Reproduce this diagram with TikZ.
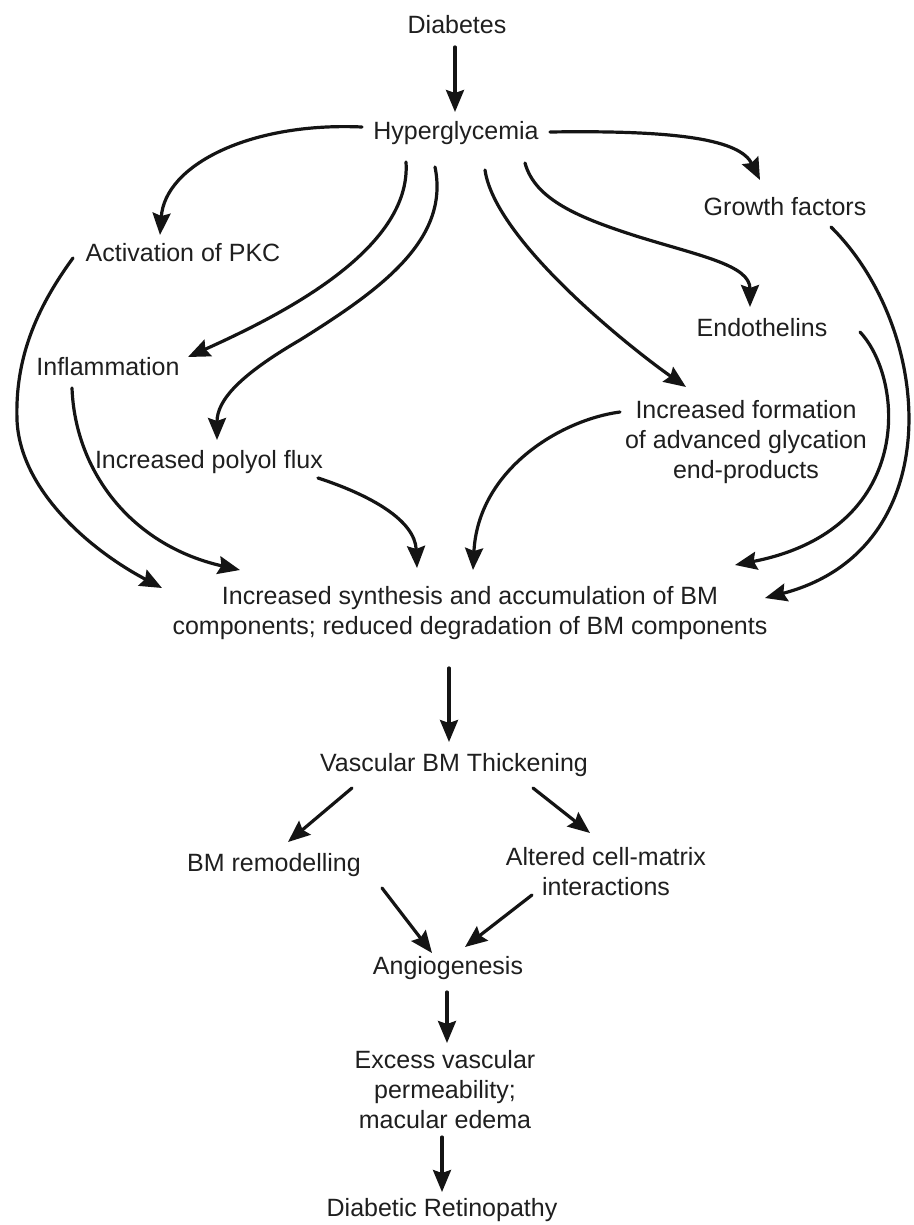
\documentclass[tikz,border=0pt]{standalone}
\usepackage{fontspec}
\setmainfont{Liberation Sans}
\usetikzlibrary{arrows.meta}
\begin{document}
\begin{tikzpicture}[x=1pt,y=-1pt,
  lbl/.style={font=\fontsize{25}{30}\selectfont, text=black!88, inner sep=0pt, align=center},
  arr/.style={line width=3.2pt, draw=black!92, line cap=round, -{Stealth[length=22pt,width=18pt,inset=3pt]}}]
\useasboundingbox[fill=white] (0,0) rectangle (913,1225);
% nodes
\node[lbl] (dia)  at (457,25)  {Diabetes};
\node[lbl] (hyp)  at (456,133) {Hyperglycemia};
\node[lbl] (gf)   at (785,207) {Growth factors};
\node[lbl] (pkc)  at (183,253) {Activation of PKC};
\node[lbl] (endo) at (762,328) {Endothelins};
\node[lbl] (infl) at (108,367) {Inflammation};
\node[lbl] (age)  at (746,442) {Increased formation\\of advanced glycation\\end-products};
\node[lbl] (poly) at (209,462) {Increased polyol flux};
\node[lbl] (bm)   at (470,613) {Increased synthesis and accumulation of BM\\components; reduced degradation of BM components};
\node[lbl] (vbm)  at (454,765) {Vascular BM Thickening};
\node[lbl] (rem)  at (274,865) {BM remodelling};
\node[lbl] (alt)  at (606,872) {Altered cell-matrix\\interactions};
\node[lbl] (ang)  at (448,968) {Angiogenesis};
\node[lbl] (exc)  at (445,1090) {Excess vascular\\permeability;\\macular edema};
\node[lbl] (ret)  at (442,1210) {Diabetic Retinopathy};
% connectors
\draw[arr] ([shift={(-2,22)}]dia.center) -- ([shift={(-1,-21)}]hyp.center);
\draw[arr] ([shift={(-94,-6)}]hyp.center) .. controls (250,122) and (165,165) .. ([shift={(-23,-18)}]pkc.center);
\draw[arr] ([shift={(-50,29)}]hyp.center) .. controls (412,250) and (279,316) .. ([shift={(80,-10)}]infl.center);
\draw[arr] ([shift={(-21,34)}]hyp.center) .. controls (450,240) and (380,290) .. (300,340) .. controls (240,375) and (217,400) .. ([shift={(8,-22)}]poly.center);
\draw[arr] ([shift={(29,37)}]hyp.center) .. controls (495,240) and (629,347) .. ([shift={(-60,-55)}]age.center);
\draw[arr] ([shift={(69,30)}]hyp.center) .. controls (535,200) and (580,218) .. (636,236) .. controls (700,256) and (750,265) .. ([shift={(-12,-21)}]endo.center);
\draw[arr] ([shift={(94,-1)}]hyp.center) .. controls (680,130) and (740,140) .. ([shift={(-25,-27)}]gf.center);
\draw[arr] ([shift={(-110,5)}]pkc.center) .. controls (35,310) and (15,360) .. (17,420) .. controls (20,490) and (90,550) .. ([shift={(-308,-25)}]bm.center);
\draw[arr] ([shift={(-36,21)}]infl.center) .. controls (75,470) and (130,545) .. ([shift={(-230,-43)}]bm.center);
\draw[arr] ([shift={(109,16)}]poly.center) .. controls (370,495) and (415,520) .. ([shift={(-53,-45)}]bm.center);
\draw[arr] ([shift={(-126,-30)}]age.center) .. controls (560,420) and (478,470) .. ([shift={(3,-43)}]bm.center);
\draw[arr] ([shift={(98,4)}]endo.center) .. controls (905,380) and (915,530) .. ([shift={(265,-48)}]bm.center);
\draw[arr] ([shift={(46,20)}]gf.center) .. controls (935,330) and (950,550) .. ([shift={(295,-15)}]bm.center);
\draw[arr] ([shift={(-21,55)}]bm.center) -- ([shift={(-5,-23)}]vbm.center);
\draw[arr] ([shift={(-102,23)}]vbm.center) -- ([shift={(14,-23)}]rem.center);
\draw[arr] ([shift={(79,23)}]vbm.center) -- ([shift={(-16,-39)}]alt.center);
\draw[arr] ([shift={(108,23)}]rem.center) -- ([shift={(-16,-15)}]ang.center);
\draw[arr] ([shift={(-74,23)}]alt.center) -- ([shift={(17,-21)}]ang.center);
\draw[arr] ([shift={(-1,24)}]ang.center) -- ([shift={(2,-47)}]exc.center);
\draw[arr] ([shift={(-3,47)}]exc.center) -- ([shift={(0,-18)}]ret.center);
\end{tikzpicture}
\end{document}
